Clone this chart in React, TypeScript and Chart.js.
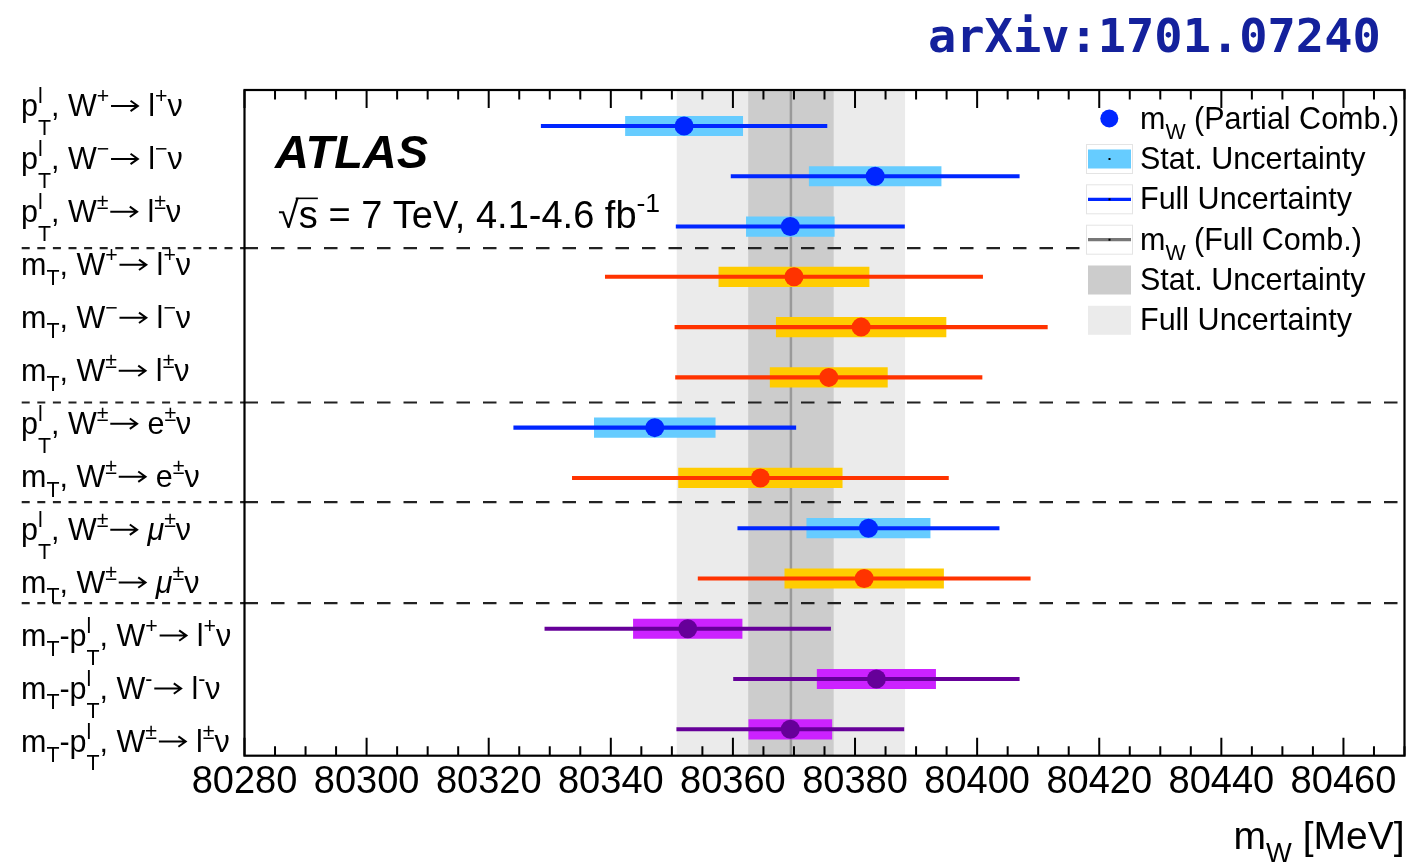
import React, { useEffect, useRef } from "react";
import { Chart, registerables } from "chart.js";

Chart.register(...registerables);

// ---------------- data ----------------
const ROW_LABELS = [
  "p_{T}^{l}, W^{+}→ l^{+}ν",
  "p_{T}^{l}, W^{−}→ l^{−}ν",
  "p_{T}^{l}, W^{±}→ l^{±}ν",
  "m_{T}, W^{+}→ l^{+}ν",
  "m_{T}, W^{−}→ l^{−}ν",
  "m_{T}, W^{±}→ l^{±}ν",
  "p_{T}^{l}, W^{±}→ e^{±}ν",
  "m_{T}, W^{±}→ e^{±}ν",
  "p_{T}^{l}, W^{±}→ μ^{±}ν",
  "m_{T}, W^{±}→ μ^{±}ν",
  "m_{T}-p_{T}^{l}, W^{+}→ l^{+}ν",
  "m_{T}-p_{T}^{l}, W^{-}→ l^{-}ν",
  "m_{T}-p_{T}^{l}, W^{±}→ l^{±}ν",
];
const ROW_METHOD = ["pt", "pt", "pt", "mt", "mt", "mt", "pt", "mt", "pt", "mt", "comb", "comb", "comb"];
const CENTRAL = [80352.0, 80383.3, 80369.4, 80370.0, 80381.0, 80375.7, 80347.2, 80364.5, 80382.2, 80381.5, 80352.6, 80383.5, 80369.4];
const STAT_UNC = [9.6, 10.8, 7.2, 12.3, 13.9, 9.6, 9.9, 13.4, 10.1, 13.0, 8.9, 9.7, 6.8];
const FULL_UNC = [23.4, 23.6, 18.7, 30.9, 30.5, 25.1, 23.1, 30.8, 21.4, 27.2, 23.4, 23.4, 18.6];

const COMB_VALUE = 80369.5;
const COMB_STAT = 7.0;
const COMB_FULL = 18.7;

const SEPARATORS = [2.43, 5.5, 7.48, 9.49];
const X_MIN = 80280;
const X_MAX = 80470;
const X_TICK_LABELS = [80280, 80300, 80320, 80340, 80360, 80380, 80400, 80420, 80440, 80460];
const Y_MIN = -0.716;
const Y_MAX = 12.525;
const LABEL_OFFSET = -0.199;
const LABEL_STEP = 1.0535;

const LEGEND_ITEMS = [
  "m_{W} (Partial Comb.)",
  "Stat. Uncertainty",
  "Full Uncertainty",
  "m_{W} (Full Comb.)",
  "Stat. Uncertainty",
  "Full Uncertainty",
];

const GROUPS = [
  { key: "pt", point: "#0026ff", line: "#0026ff", box: "#66ccff" },
  { key: "mt", point: "#ff3300", line: "#ff3300", box: "#ffcc00" },
  { key: "comb", point: "#660099", line: "#660099", box: "#cc22ff" },
];

const FONT = '"Liberation Sans", Arial, Helvetica, sans-serif';

// ---------------- rich text ----------------
function richText(ctx: CanvasRenderingContext2D, text: string, x: number, y: number, size: number, draw = true): number {
  let i = 0;
  let cx = x;
  let prev = "";
  const f = (s: number, italic = false) => `${italic ? "italic " : ""}${s}px ${FONT}`;
  while (i < text.length) {
    const ch = text[i];
    if ((ch === "_" || ch === "^") && text[i + 1] === "{") {
      const groups: { t: string; s: string }[] = [];
      while (i < text.length && (text[i] === "_" || text[i] === "^") && text[i + 1] === "{") {
        const end = text.indexOf("}", i);
        groups.push({ t: text[i], s: text.slice(i + 2, end) });
        i = end + 1;
      }
      let maxW = 0;
      for (const g of groups) {
        ctx.font = f(size * 0.7);
        const w = ctx.measureText(g.s).width;
        const dy = g.t === "_" ? (prev === "p" ? 0.62 : 0.33) * size : -0.42 * size;
        if (draw) ctx.fillText(g.s, cx, y + dy);
        maxW = Math.max(maxW, w);
      }
      cx += maxW;
      continue;
    }
    if (ch === "→") {
      const w = size * 1.0;
      if (draw) {
        const ay = y - size * 0.33;
        ctx.save();
        ctx.strokeStyle = ctx.fillStyle as string;
        ctx.lineWidth = Math.max(1.5, size * 0.065);
        ctx.beginPath();
        ctx.moveTo(cx + size * 0.06, ay);
        ctx.lineTo(cx + w - size * 0.06, ay);
        ctx.moveTo(cx + w - size * 0.3, ay - size * 0.17);
        ctx.lineTo(cx + w - size * 0.06, ay);
        ctx.lineTo(cx + w - size * 0.3, ay + size * 0.17);
        ctx.stroke();
        ctx.restore();
      }
      cx += w;
      prev = ch;
      i++;
      continue;
    }
    if (ch === "μ") {
      ctx.font = f(size, true);
      if (draw) ctx.fillText(ch, cx, y);
      cx += ctx.measureText(ch).width;
      prev = ch;
      i++;
      continue;
    }
    let j = i;
    while (
      j < text.length &&
      !((text[j] === "_" || text[j] === "^") && text[j + 1] === "{") &&
      text[j] !== "μ" &&
      text[j] !== "→"
    )
      j++;
    const run = text.slice(i, j);
    ctx.font = f(size);
    if (draw) ctx.fillText(run, cx, y);
    cx += ctx.measureText(run).width;
    prev = run[run.length - 1];
    i = j;
  }
  return cx - x;
}

// ---------------- decorations ----------------
const decorPlugin = {
  id: "decor",
  beforeDatasetsDraw(chart: any) {
    const { ctx, chartArea: a, scales } = chart;
    const x = scales.x;
    const y = scales.y;
    ctx.save();
    const l1 = x.getPixelForValue(COMB_VALUE - COMB_FULL);
    const r1 = x.getPixelForValue(COMB_VALUE + COMB_FULL);
    ctx.fillStyle = "#ebebeb";
    ctx.fillRect(l1, a.top, r1 - l1, a.bottom - a.top);
    const l2 = x.getPixelForValue(COMB_VALUE - COMB_STAT);
    const r2 = x.getPixelForValue(COMB_VALUE + COMB_STAT);
    ctx.fillStyle = "#cccccc";
    ctx.fillRect(l2, a.top, r2 - l2, a.bottom - a.top);
    const c = x.getPixelForValue(COMB_VALUE);
    ctx.strokeStyle = "#999999";
    ctx.lineWidth = 2.5;
    ctx.beginPath();
    ctx.moveTo(c, a.top);
    ctx.lineTo(c, a.bottom);
    ctx.stroke();
    ctx.strokeStyle = "#222";
    ctx.lineWidth = 2.2;
    for (const s of SEPARATORS) {
      const py = y.getPixelForValue(s);
      ctx.setLineDash([13.5, 13]);
      ctx.beginPath();
      ctx.moveTo(a.left, py);
      ctx.lineTo(a.right, py);
      ctx.stroke();
      ctx.setLineDash([8, 7.6]);
      ctx.beginPath();
      ctx.moveTo(21.7, py);
      ctx.lineTo(a.left, py);
      ctx.stroke();
    }
    ctx.setLineDash([]);
    // legend background
    ctx.fillStyle = "#ffffff";
    ctx.fillRect(1080, a.top + 8, a.right - 1080, 340 - a.top - 8);
    ctx.restore();
  },
  afterDatasetsDraw(chart: any) {
    const { ctx, chartArea: a, scales } = chart;
    const x = scales.x;
    const y = scales.y;
    ctx.save();
    ctx.strokeStyle = "#000";
    ctx.lineWidth = 2.2;
    ctx.strokeRect(a.left, a.top, a.right - a.left, a.bottom - a.top);
    ctx.lineWidth = 2;
    for (let v = X_MIN; v <= X_MAX; v += 5) {
      const px = x.getPixelForValue(v);
      const len = v % 20 === 0 ? 18 : 9.5;
      ctx.beginPath();
      ctx.moveTo(px, a.bottom);
      ctx.lineTo(px, a.bottom - len);
      ctx.moveTo(px, a.top);
      ctx.lineTo(px, a.top + len);
      ctx.stroke();
    }
    ctx.fillStyle = "#000";
    ctx.font = `38px ${FONT}`;
    ctx.textAlign = "center";
    ctx.textBaseline = "alphabetic";
    for (const v of X_TICK_LABELS) {
      ctx.fillText(String(v), x.getPixelForValue(v), 793);
    }
    ctx.textAlign = "left";
    const tw = richText(ctx, "m_{W} [MeV]", 0, 0, 39, false);
    richText(ctx, "m_{W} [MeV]", a.right - tw, 849, 39);
    ROW_LABELS.forEach((lab, i) => {
      const py = y.getPixelForValue(LABEL_OFFSET + i * LABEL_STEP);
      richText(ctx, lab, 21, py, 30.5);
    });
    ctx.font = `bold italic 47px ${FONT}`;
    ctx.fillText("ATLAS", 275, 168);
    const sx = 278;
    const sy = 228;
    const ss = 38;
    richText(ctx, "√s = 7 TeV, 4.1-4.6 fb^{-1}", sx, sy, ss);
    ctx.font = `${ss}px ${FONT}`;
    const wr = ctx.measureText("√").width;
    const ws = ctx.measureText("s").width;
    ctx.lineWidth = 1.6;
    ctx.beginPath();
    ctx.moveTo(sx + wr * 0.85, sy - ss * 0.78);
    ctx.lineTo(sx + wr + ws, sy - ss * 0.78);
    ctx.stroke();
    ctx.fillStyle = "#14219c";
    ctx.font = `bold 47px "DejaVu Sans Mono", monospace`;
    ctx.fillText("arXiv:1701.07240", 928, 52);
    const rows = [118.5, 159, 199.3, 239.7, 280, 320.3];
    const lx0 = 1088;
    const lx1 = 1131;
    ctx.fillStyle = "#000";
    LEGEND_ITEMS.forEach((t, k) => {
      richText(ctx, t, 1140, rows[k] + 10, 30.5);
    });
    ctx.fillStyle = "#0026ff";
    ctx.beginPath();
    ctx.arc(1109.3, rows[0], 9, 0, Math.PI * 2);
    ctx.fill();
    ctx.strokeStyle = "#e4e4e4";
    ctx.lineWidth = 1;
    for (const k of [1, 2, 3]) {
      ctx.strokeRect(lx0 - 1.5, rows[k] - 14.5, lx1 - lx0 + 3, 29);
    }
    ctx.fillStyle = "#66ccff";
    ctx.fillRect(lx0, rows[1] - 9.5, lx1 - lx0, 19);
    ctx.strokeStyle = "#0026ff";
    ctx.lineWidth = 3.2;
    ctx.beginPath();
    ctx.moveTo(lx0, rows[2]);
    ctx.lineTo(lx1, rows[2]);
    ctx.stroke();
    ctx.strokeStyle = "#777777";
    ctx.beginPath();
    ctx.moveTo(lx0, rows[3]);
    ctx.lineTo(lx1, rows[3]);
    ctx.stroke();
    ctx.fillStyle = "#000";
    for (const k of [1, 2, 3]) ctx.fillRect((lx0 + lx1) / 2 - 1, rows[k] - 1, 2, 2);
    ctx.fillStyle = "#cccccc";
    ctx.fillRect(lx0, rows[4] - 14.5, lx1 - lx0, 29);
    ctx.fillStyle = "#ebebeb";
    ctx.fillRect(lx0, rows[5] - 14.5, lx1 - lx0, 29);
    ctx.restore();
  },
};

// ---------------- component ----------------
export default function App() {
  const ref = useRef<HTMLCanvasElement | null>(null);
  useEffect(() => {
    if (!ref.current) return;
    const datasets: any[] = [];
    for (const g of GROUPS) {
      const idx = ROW_METHOD.map((m, i) => (m === g.key ? i : -1)).filter((i) => i >= 0);
      datasets.push({
        type: "scatter",
        data: idx.map((i) => ({ x: CENTRAL[i], y: i })),
        backgroundColor: g.point,
        borderWidth: 0,
        pointRadius: 9.5,
        pointHoverRadius: 9.5,
        order: 1,
      });
      datasets.push({
        type: "bar",
        indexAxis: "y",
        grouped: false,
        barThickness: 3.4,
        data: idx.map((i) => ({ x: [CENTRAL[i] - FULL_UNC[i], CENTRAL[i] + FULL_UNC[i]], y: i })),
        backgroundColor: g.line,
        borderWidth: 0,
        order: 2,
      });
      datasets.push({
        type: "bar",
        indexAxis: "y",
        grouped: false,
        barThickness: 19.5,
        data: idx.map((i) => ({ x: [CENTRAL[i] - STAT_UNC[i], CENTRAL[i] + STAT_UNC[i]], y: i })),
        backgroundColor: g.box,
        borderWidth: 0,
        order: 3,
      });
    }
    const chart = new Chart(ref.current, {
      type: "bar",
      data: { datasets },
      options: {
        animation: false,
        responsive: false,
        devicePixelRatio: 1,
        layout: { padding: { left: 244.5, right: 6.7, top: 90, bottom: 108.3 } },
        scales: {
          x: { type: "linear", min: X_MIN, max: X_MAX, offset: false, beginAtZero: false, display: false },
          y: { type: "linear", min: Y_MIN, max: Y_MAX, reverse: true, offset: false, beginAtZero: false, display: false },
        },
        plugins: { legend: { display: false }, tooltip: { enabled: false } },
      } as any,
      plugins: [decorPlugin],
    });
    return () => chart.destroy();
  }, []);
  return (
    <div style={{ position: "fixed", left: 0, top: 0, width: 1414, height: 864, background: "#fff" }}>
      <canvas ref={ref} width={1414} height={864} style={{ display: "block" }} />
    </div>
  );
}
